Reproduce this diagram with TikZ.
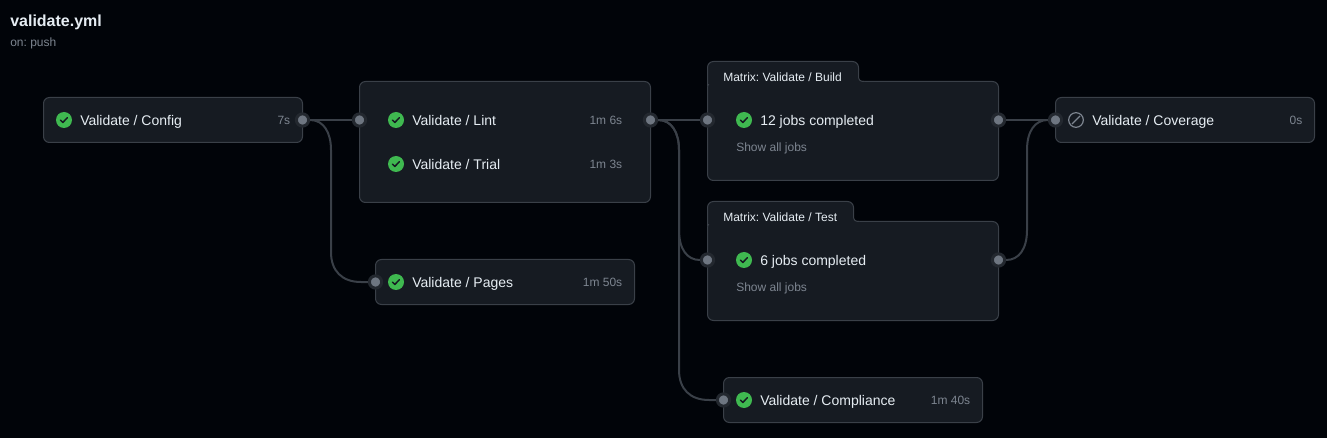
\documentclass[tikz,border=0pt]{standalone}
\usepackage{fontspec}
\setmainfont{Liberation Sans}
\frenchspacing
\definecolor{pagebg}{HTML}{010409}
\definecolor{boxbg}{HTML}{161B22}
\definecolor{boxline}{HTML}{3A4048}
\definecolor{wire}{HTML}{3A4048}
\definecolor{portring}{HTML}{23282F}
\definecolor{portdot}{HTML}{6E7681}
\definecolor{maintext}{HTML}{E6EDF3}
\definecolor{muted}{HTML}{7D8590}
\definecolor{okgreen}{HTML}{3FB950}
\begin{document}
\begin{tikzpicture}[x=0.75pt,y=-0.75pt,
	jobbox/.style={draw=boxline, fill=boxbg, line width=0.75pt, rounded corners=4.5pt, inner sep=0pt, anchor=north west},
	port/.style={circle, draw=portring, fill=portdot, line width=2.25pt, inner sep=0pt, minimum size=9.2pt},
	label/.style={text=maintext, font=\fontsize{10.5}{12}\selectfont, inner sep=0pt, anchor=base west},
	tablabel/.style={text=maintext, font=\fontsize{9}{11}\selectfont, inner sep=0pt, anchor=base west},
	time/.style={text=muted, font=\fontsize{9}{11}\selectfont, inner sep=0pt, anchor=base east},
	showall/.style={text=muted, font=\fontsize{9}{11}\selectfont, inner sep=0pt, anchor=base west},
	okicon/.style={circle, fill=okgreen, inner sep=0pt, minimum size=12pt,
		path picture={\draw[boxbg, line width=1.1pt, line cap=round, line join=round]
			(path picture bounding box.center) ++(-3.5,0.2) -- ++(2.3,2.3) -- ++(4.6,-4.8);}},
	skipicon/.style={circle, draw=muted, line width=0.9pt, inner sep=0pt, minimum size=11pt,
		path picture={\draw[muted, line width=0.9pt]
			(path picture bounding box.center) ++(-4,4) -- ++(8,-8);}},
	link/.style={draw=wire, line width=1.5pt},
	tabfill/.style={fill=boxbg},
	tabline/.style={draw=boxline, line width=0.75pt}]

	\fill[pagebg] (0,0) rectangle (1327,438);
	\useasboundingbox (0,0) rectangle (1327,438);

	\node[text=maintext, font=\fontsize{12}{14}\bfseries, inner sep=0pt, anchor=base west] (title) at (10,26.5) {validate.yml};
	\node[text=muted, font=\fontsize{9}{11}\selectfont, inner sep=0pt, anchor=base west] (trigger) at (10,46.5) {on: push};

	% boxes
	\node[jobbox, minimum width=194.25pt, minimum height=33.75pt] (config) at (43,97) {};
	\node[jobbox, minimum width=218.25pt, minimum height=90.75pt] (checks) at (359,81) {};
	\node[jobbox, minimum width=194.25pt, minimum height=33.75pt] (pages) at (375,259) {};
	\node[jobbox, minimum width=218.25pt, minimum height=74.25pt] (build) at (707,81) {};
	\node[jobbox, minimum width=218.25pt, minimum height=74.25pt] (test) at (707,221) {};
	\node[jobbox, minimum width=194.25pt, minimum height=33.75pt] (compliance) at (723,377) {};
	\node[jobbox, minimum width=194.25pt, minimum height=33.75pt] (coverage) at (1055,97) {};

	% tabs of the matrix boxes
	\fill[tabfill, rounded corners=4.5pt] (707.5,84) -- (707.5,61.5) -- (858.5,61.5) [sharp corners] -- (858.5,76) .. controls (858.5,80) and (860,81.5) .. (864,81.5) -- (864,84) -- cycle;
	\draw[tabline, rounded corners=4.5pt] (707.5,86) -- (707.5,61.5) -- (858.5,61.5) [sharp corners] -- (858.5,76) .. controls (858.5,80) and (860,81.5) .. (864,81.5);
	\fill[tabfill, rounded corners=4.5pt] (707.5,224) -- (707.5,201.5) -- (853.5,201.5) [sharp corners] -- (853.5,216) .. controls (853.5,220) and (855,221.5) .. (859,221.5) -- (859,224) -- cycle;
	\draw[tabline, rounded corners=4.5pt] (707.5,226) -- (707.5,201.5) -- (853.5,201.5) [sharp corners] -- (853.5,216) .. controls (853.5,220) and (855,221.5) .. (859,221.5);

	% ports
	\node[port] (configout) at (302.5,120) {};
	\node[port] (checksin) at (359.5,120) {};
	\node[port] (checksout) at (650.5,120) {};
	\node[port] (pagesin) at (375.5,282) {};
	\node[port] (buildin) at (707.5,120) {};
	\node[port] (buildout) at (998.5,120) {};
	\node[port] (testin) at (707.5,260) {};
	\node[port] (testout) at (998.5,260) {};
	\node[port] (compliancein) at (723.5,400) {};
	\node[port] (coveragein) at (1055.5,120) {};

	% links
	\draw[link] (configout) -- (checksin);
	\draw[link] (configout.east) .. controls (324,120) and (331,133) .. (331,150) -- (331,252) .. controls (331,271) and (342,282) .. (361,282) -- (pagesin.west);
	\draw[link] (checksout) -- (buildin);
	\draw[link] (checksout.east) .. controls (672,120) and (679,133) .. (679,150) -- (679,230) .. controls (679,249) and (687,260) .. (testin.west);
	\draw[link] (checksout.east) .. controls (672,120) and (679,133) .. (679,150) -- (679,370) .. controls (679,389) and (690,400) .. (709,400) -- (compliancein.west);
	\draw[link] (buildout) -- (coveragein);
	\draw[link] (testout.east) .. controls (1019,260) and (1027,249) .. (1027,230) -- (1027,150) .. controls (1027,131) and (1035,120) .. (coveragein.west);

	% job rows
	\node[okicon] (configicon) at (64,120) {};
	\node[label] (configname) at (80,125.5) {Validate / Config};
	\node[time] (configtime) at (290.5,124.5) {7s};

	\node[okicon] (linticon) at (396,120) {};
	\node[label] (lintname) at (412,125.5) {Validate / Lint};
	\node[time] (linttime) at (622.5,124.5) {1m 6s};
	\node[okicon] (trialicon) at (396,164) {};
	\node[label] (trialname) at (412,169.5) {Validate / Trial};
	\node[time] (trialtime) at (622.5,168.5) {1m 3s};

	\node[okicon] (pagesicon) at (396,282) {};
	\node[label] (pagesname) at (412,287.5) {Validate / Pages};
	\node[time] (pagestime) at (622.5,286.5) {1m 50s};

	\node[tablabel] (buildtab) at (723,81.5) {Matrix: Validate / Build};
	\node[okicon] (buildicon) at (744,120) {};
	\node[label] (buildname) at (760,125.5) {12 jobs completed};
	\node[showall] (buildall) at (736,151.5) {Show all jobs};

	\node[tablabel] (testtab) at (723,221.5) {Matrix: Validate / Test};
	\node[okicon] (testicon) at (744,260) {};
	\node[label] (testname) at (760,265.5) {6 jobs completed};
	\node[showall] (testall) at (736,291.5) {Show all jobs};

	\node[okicon] (complianceicon) at (744,400) {};
	\node[label] (compliancename) at (760,405.5) {Validate / Compliance};
	\node[time] (compliancetime) at (970.5,404.5) {1m 40s};

	\node[skipicon] (coverageicon) at (1076,120) {};
	\node[label] (coveragename) at (1092,125.5) {Validate / Coverage};
	\node[time] (coveragetime) at (1302.5,124.5) {0s};
\end{tikzpicture}
\end{document}
